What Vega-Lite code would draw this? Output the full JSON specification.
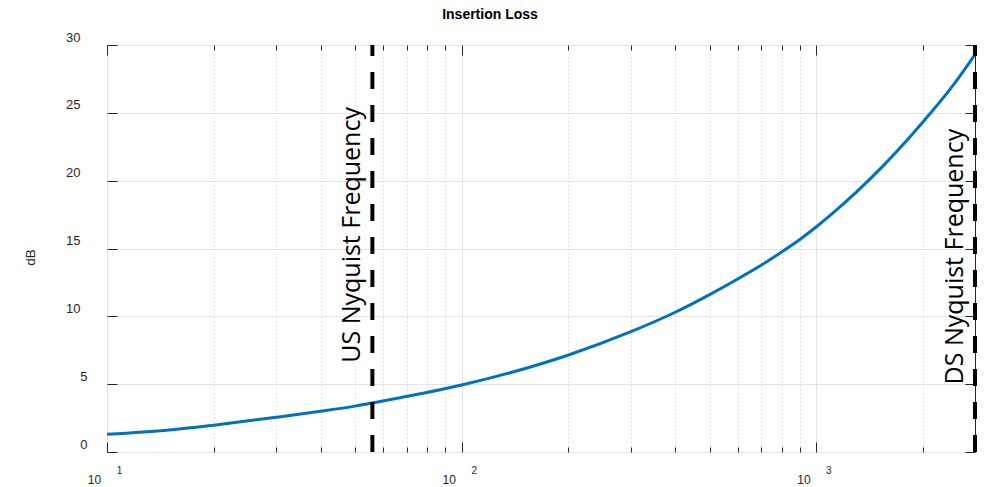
{
  "$schema": "https://vega.github.io/schema/vega-lite/v6.json",
  "width": 868,
  "height": 407,
  "autosize": {"type": "none"},
  "padding": {"left": 107, "top": 45, "right": 10, "bottom": 35},
  "background": "white",
  "title": {"text": "Insertion Loss", "fontSize": 14, "fontWeight": "bold", "font": "Liberation Sans", "color": "#000000", "anchor": "middle", "dx": -51, "offset": -2, "baseline": "alphabetic"},
  "config": {
    "view": {"stroke": "#262626", "strokeWidth": 1},
    "axis": {"labelFont": "Liberation Sans", "titleFont": "Liberation Sans", "labelColor": "#262626", "titleColor": "#262626", "domain": false, "tickColor": "#262626", "tickWidth": 1}
  },
  "datasets": {
    "curve": [
      {"f": 10, "db": 1.30}, {"f": 15, "db": 1.62}, {"f": 20, "db": 1.98}, {"f": 30, "db": 2.56},
      {"f": 40, "db": 3.0}, {"f": 50, "db": 3.38}, {"f": 56, "db": 3.61}, {"f": 67, "db": 4.0},
      {"f": 100, "db": 4.94}, {"f": 200, "db": 7.15}, {"f": 300, "db": 8.87}, {"f": 400, "db": 10.3},
      {"f": 500, "db": 11.6}, {"f": 600, "db": 12.75}, {"f": 700, "db": 13.78}, {"f": 800, "db": 14.76},
      {"f": 900, "db": 15.68}, {"f": 1000, "db": 16.6}, {"f": 1170, "db": 18.1}, {"f": 1420, "db": 20.15},
      {"f": 2000, "db": 24.35}, {"f": 2440, "db": 27.1}, {"f": 2800, "db": 29.3}
    ],
    "nyq": [
      {"f": 56, "label": "US Nyquist Frequency", "at_db": 16.0},
      {"f": 2800, "label": "DS Nyquist Frequency", "at_db": 14.4}
    ]
  },
  "layer": [
    {
      "data": {"name": "curve"},
      "mark": {"type": "line", "color": "#0072BD", "strokeWidth": 3, "interpolate": "monotone"},
      "encoding": {
        "x": {"field": "f", "type": "quantitative", "scale": {"type": "log", "domain": [10, 2800]},
          "axis": {"orient": "bottom", "values": [10, 100, 1000], "labelExpr": "'10'", "ticks": false, "grid": true, "gridColor": "#e3e3e3", "gridWidth": 1, "labelOffset": -13, "labelPadding": 22, "labelFontSize": 12, "labelBaseline": "top", "labelAlign": "center", "labelFlush": false, "labelOverlap": false, "title": null}},
        "y": {"field": "db", "type": "quantitative", "scale": {"domain": [0, 30]},
          "axis": {"orient": "left", "values": [0, 5, 10, 15, 20, 25, 30], "ticks": false, "grid": true, "gridColor": "#e3e3e3", "gridWidth": 1,
            "labelPadding": {"condition": {"test": "datum.value < 10", "value": 20}, "value": 27},
            "labelOffset": -8, "labelFontSize": 13, "labelBaseline": "middle", "labelAlign": "right", "labelFlush": false, "labelOverlap": false,
            "title": "dB", "titleFontSize": 13.5, "titleFontWeight": "normal", "titleAngle": 270, "titleX": -73, "titleY": 212, "titleAlign": "center", "titleBaseline": "alphabetic"}}
      }
    },
    {
      "data": {"name": "nyq"},
      "mark": {"type": "rule", "color": "#000000", "strokeWidth": 4, "strokeDash": [17, 16]},
      "encoding": {
        "x": {"field": "f", "type": "quantitative", "scale": {"type": "log", "domain": [10, 2800]},
          "axis": {"orient": "bottom", "values": [20, 30, 40, 50, 60, 70, 80, 90, 200, 300, 400, 500, 600, 700, 800, 900, 2000], "labels": false, "ticks": true, "tickSize": -5, "grid": true, "gridColor": "#c4c4c4", "gridDash": [1, 3], "gridWidth": 1, "title": null}},
        "y": {"datum": 0, "type": "quantitative", "scale": {"domain": [0, 30]}, "axis": null},
        "y2": {"datum": 30}
      }
    },
    {
      "data": {"name": "nyq"},
      "mark": {"type": "text", "angle": 270, "font": "Open Sans", "fontSize": 25, "align": "center", "baseline": "alphabetic", "dy": -12, "color": "#000000"},
      "encoding": {
        "x": {"field": "f", "type": "quantitative", "scale": {"type": "log", "domain": [10, 2800]},
          "axis": {"orient": "bottom", "values": [10, 100, 1000], "labels": false, "ticks": true, "tickSize": -10, "grid": false, "title": null}},
        "y": {"field": "at_db", "type": "quantitative", "scale": {"domain": [0, 30]},
          "axis": {"orient": "right", "values": [0, 5, 10, 15, 20, 25, 30], "labels": false, "ticks": true, "tickSize": -10, "grid": false, "title": null}},
        "text": {"field": "label"}
      }
    },
    {
      "data": {"name": "curve"},
      "mark": {"type": "point", "opacity": 0},
      "encoding": {
        "x": {"field": "f", "type": "quantitative", "scale": {"type": "log", "domain": [10, 2800]},
          "axis": {"orient": "top", "values": [10, 100, 1000], "labels": false, "ticks": true, "tickSize": -10, "grid": false, "title": null}},
        "y": {"field": "db", "type": "quantitative", "scale": {"domain": [0, 30]},
          "axis": {"orient": "left", "values": [0, 5, 10, 15, 20, 25, 30], "labels": false, "ticks": true, "tickSize": -10, "grid": false, "title": null}}
      }
    },
    {
      "data": {"name": "nyq"},
      "mark": {"type": "rule", "strokeOpacity": 0},
      "encoding": {
        "x": {"field": "f", "type": "quantitative", "scale": {"type": "log", "domain": [10, 2800]},
          "axis": {"orient": "top", "values": [20, 30, 40, 50, 60, 70, 80, 90, 200, 300, 400, 500, 600, 700, 800, 900, 2000], "labels": false, "ticks": true, "tickSize": -5, "grid": false, "title": null}}
      }
    },
    {
      "data": {"name": "nyq"},
      "mark": {"type": "rule", "strokeOpacity": 0},
      "encoding": {
        "x": {"field": "f", "type": "quantitative", "scale": {"type": "log", "domain": [10, 2800]},
          "axis": {"orient": "bottom", "values": [10, 100, 1000], "labelExpr": "'' + round(log(datum.value) / LN10)", "labels": true, "ticks": false, "grid": false, "labelOffset": 12, "labelPadding": 13, "labelFontSize": 10, "labelBaseline": "top", "labelAlign": "center", "labelFlush": false, "labelOverlap": false, "title": null}}
      }
    }
  ],
  "resolve": {"axis": {"x": "independent", "y": "independent"}}
}
